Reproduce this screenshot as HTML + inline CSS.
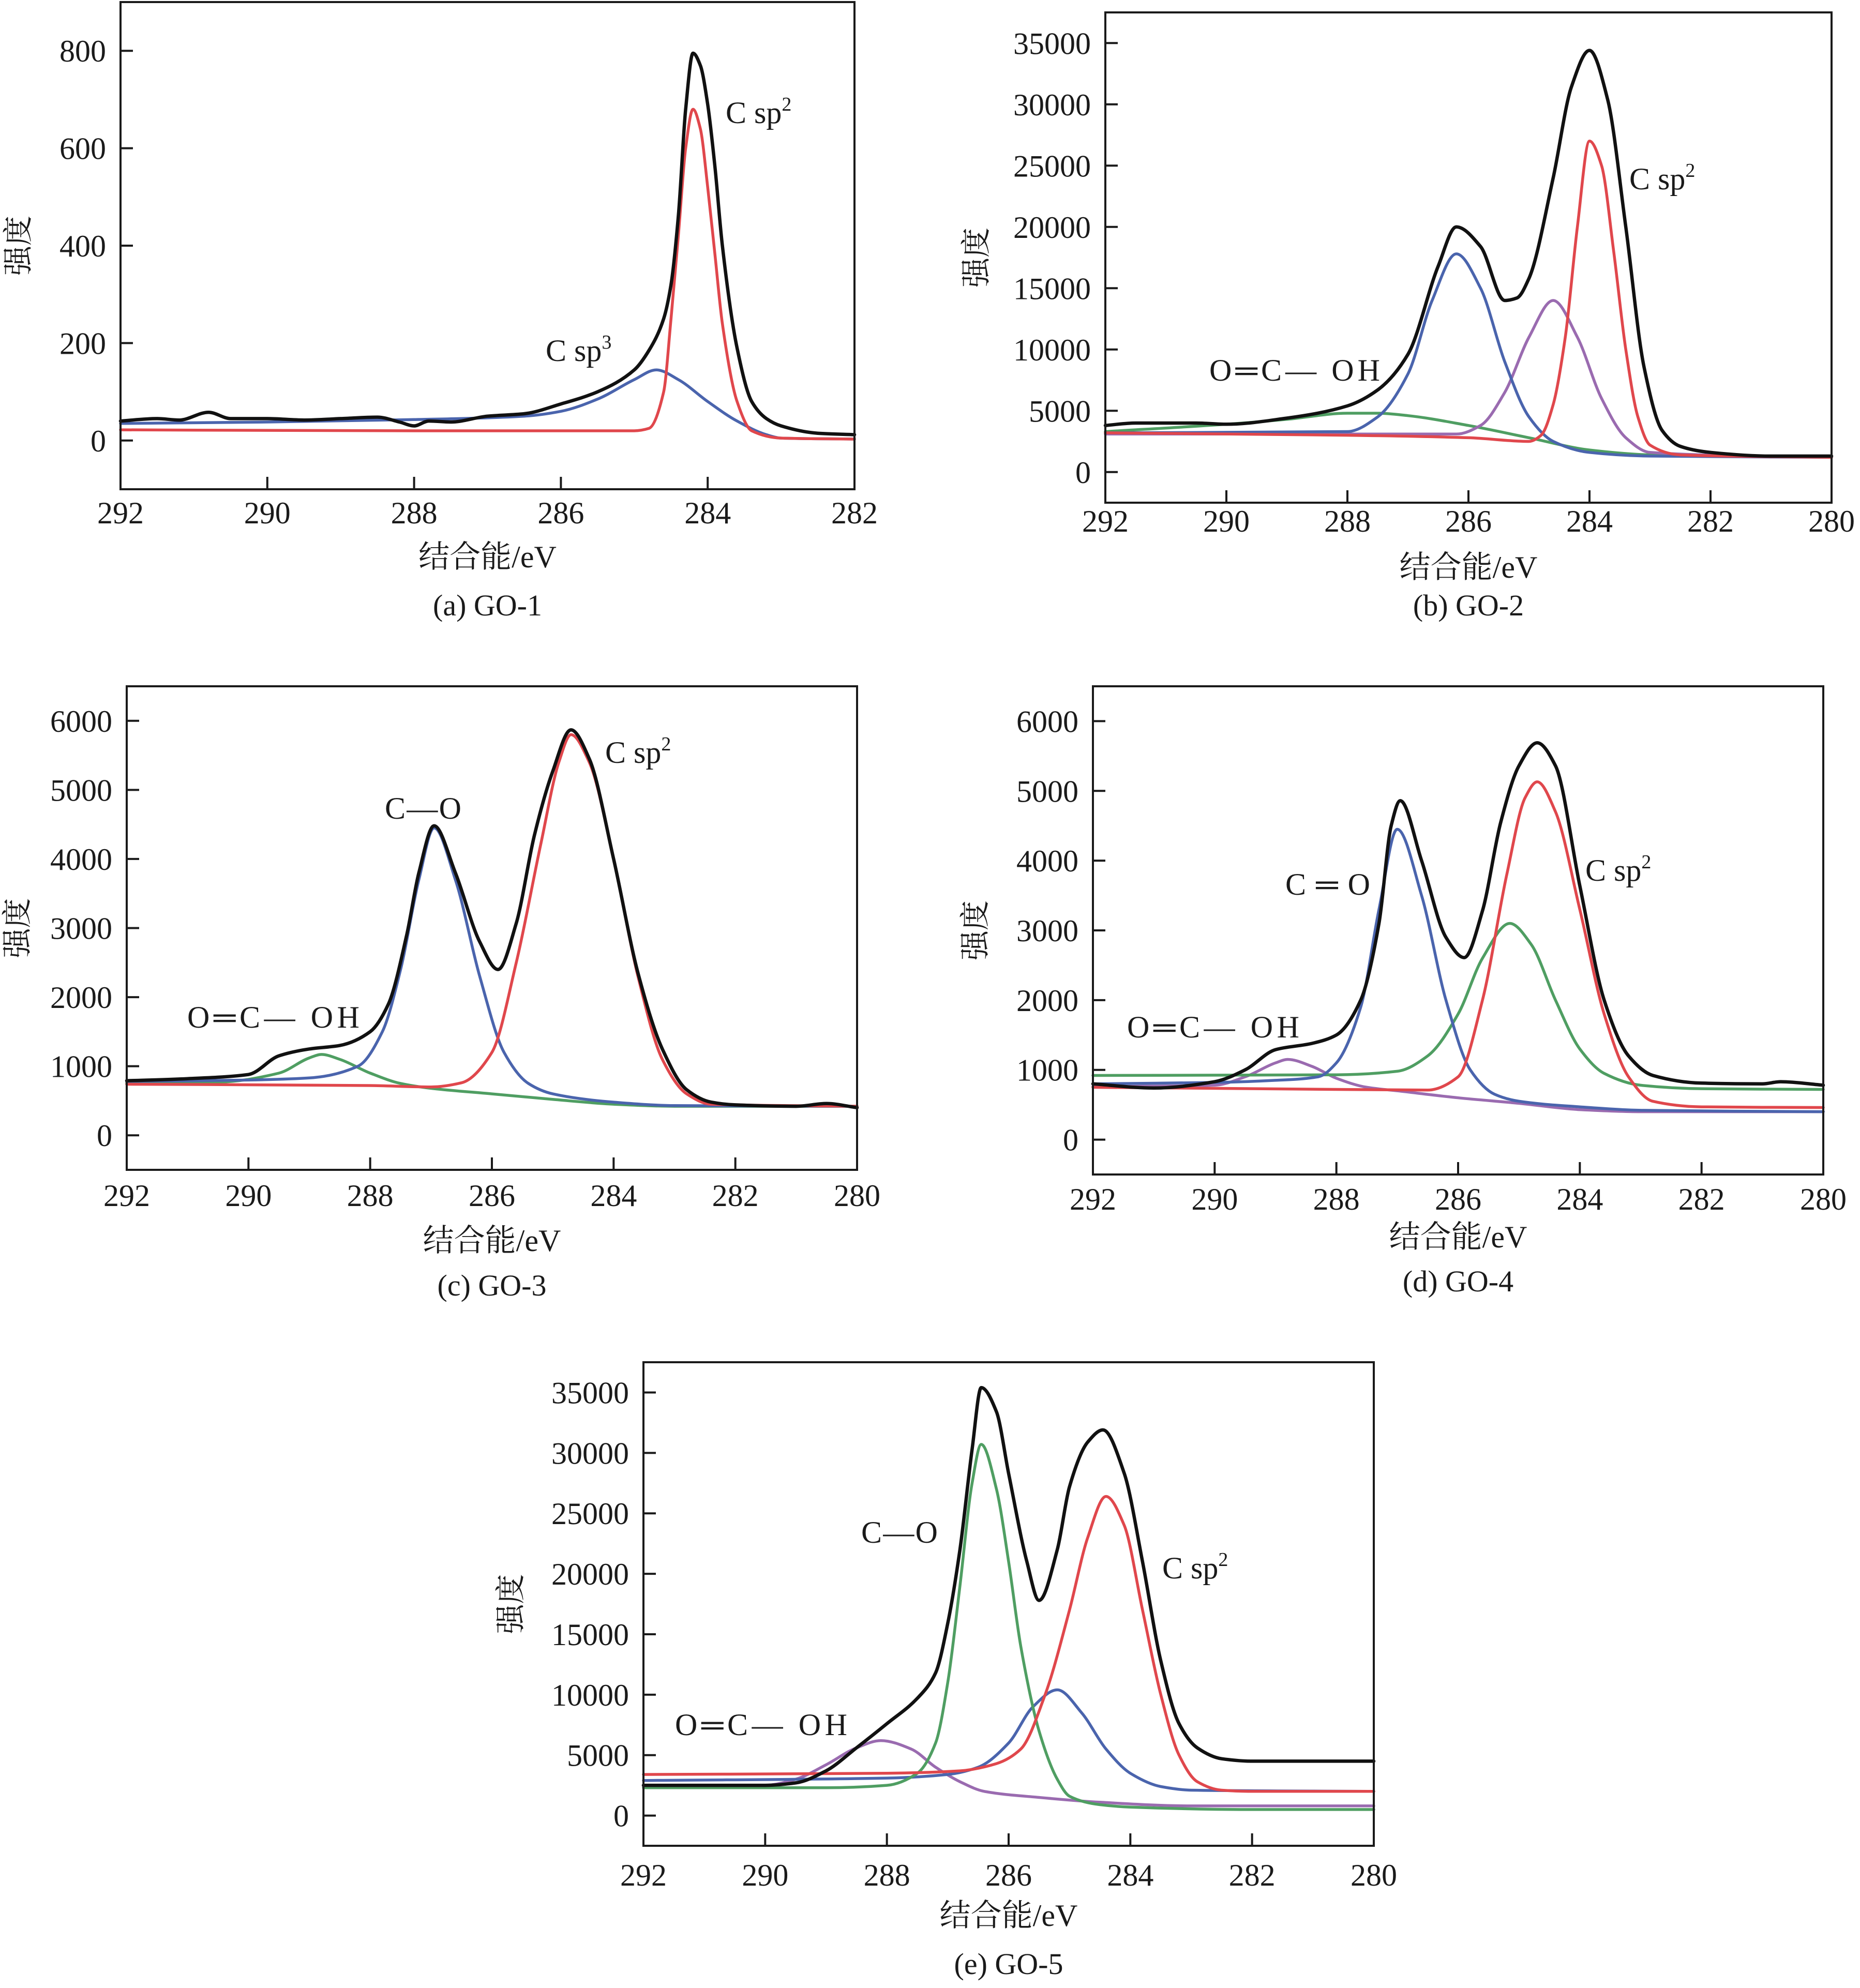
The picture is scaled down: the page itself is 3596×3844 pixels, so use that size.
<!DOCTYPE html>
<html><head><meta charset="utf-8"><title>XPS C1s spectra GO-1 to GO-5</title>
<style>
html,body{margin:0;padding:0;background:#fff;}
svg{display:block;}
text{font-family:"Liberation Serif","Noto Serif CJK SC",serif;fill:#1a1a1a;}
</style></head>
<body>
<svg id="chart" xmlns="http://www.w3.org/2000/svg" width="3596" height="3844" viewBox="0 0 3596 3844"></svg>
<script>
// ---------- data (binding energy eV, intensity) ----------
const xTicksA = [292,290,288,286,284,282];
const xTicks = [292,290,288,286,284,282,280];
const yTicksA = [0,200,400,600,800];
const yTicksB = [0,5000,10000,15000,20000,25000,30000,35000];
const yTicksC = [0,1000,2000,3000,4000,5000,6000];

// (a) GO-1
const aTotal = [[292,40],[291.5,45],[291.2,42],[290.8,58],[290.5,45],[290,45],[289.5,42],[289,45],[288.5,48],[288.2,38],[288,30],[287.8,40],[287.5,38],[287,50],[286.5,55],[286,75],[285.5,100],[285,145],[284.8,185],[284.6,250],[284.5,320],[284.4,460],[284.3,680],[284.2,795],[284.1,770],[284,690],[283.9,560],[283.8,400],[283.6,190],[283.4,80],[283.2,45],[283,30],[282.5,15],[282,12]];
const aSp2 = [[292,22],[288,20],[285,20],[284.8,25],[284.6,100],[284.5,250],[284.4,420],[284.3,600],[284.2,680],[284.1,640],[284,520],[283.9,380],[283.8,240],[283.6,80],[283.4,20],[283,5],[282,3]];
const aSp3 = [[292,35],[290,38],[288,43],[286.5,50],[286,60],[285.5,85],[285,125],[284.7,145],[284.4,125],[284,80],[283.6,40],[283.2,12],[283,5],[282,3]];

// (b) GO-2
const bTotal = [[292,3800],[291.5,4000],[290.5,4000],[290,3900],[289,4400],[288,5400],[287.5,6700],[287,9600],[286.5,16800],[286.2,20000],[285.8,18400],[285.4,14000],[285.2,14200],[285,15800],[284.6,24000],[284.3,31400],[284,34400],[283.7,30400],[283.4,20000],[283.1,8600],[282.8,3400],[282.5,2100],[282,1600],[281,1300],[280,1300]];
const bRed = [[292,3200],[288,3000],[286,2800],[285,2500],[284.8,3000],[284.6,5500],[284.4,11000],[284.2,20000],[284,27000],[283.8,25000],[283.6,18000],[283.4,10000],[283.2,4500],[283,2200],[282.5,1400],[280,1200]];
const bBlue = [[292,3200],[288,3300],[287.5,4500],[287,8000],[286.6,14000],[286.2,17800],[285.8,15000],[285.4,9000],[285,4500],[284.6,2500],[284,1600],[283,1300],[280,1200]];
const bPurple = [[292,3100],[286.2,3100],[285.8,3800],[285.4,6500],[285,11000],[284.6,14000],[284.2,11000],[283.8,6000],[283.4,2800],[283,1600],[280,1200]];
const bGreen = [[292,3300],[290,3900],[289,4300],[288,4800],[287.5,4800],[287,4600],[286,3800],[285,2800],[284,1800],[283,1400],[280,1200]];

// (c) GO-3
const cTotal = [[292,790],[291,820],[290,880],[289.5,1150],[289,1250],[288.5,1300],[288,1500],[287.7,1900],[287.4,2900],[287.2,3800],[286.95,4480],[286.6,3800],[286.2,2800],[285.9,2400],[285.6,3070],[285.3,4350],[285,5270],[284.7,5870],[284.4,5450],[284,4000],[283.6,2350],[283.2,1250],[282.8,660],[282.4,480],[282,440],[281,420],[280.5,460],[280,400]];
const cBlue = [[292,780],[290,800],[289,830],[288.2,1000],[287.8,1500],[287.5,2400],[287.2,3700],[286.95,4450],[286.6,3700],[286.2,2300],[285.8,1200],[285.4,750],[285,600],[284,480],[283,430],[280,420]];
const cRed = [[292,740],[288,720],[287,700],[286.5,760],[286,1200],[285.6,2500],[285.2,4200],[284.9,5400],[284.7,5800],[284.4,5400],[284,4000],[283.6,2300],[283.2,1100],[282.8,600],[282.4,450],[280,420]];
const cGreen = [[292,760],[290.5,770],[289.5,900],[289,1120],[288.8,1170],[288.5,1100],[288,900],[287.5,750],[287,680],[286,600],[285,520],[284,450],[283,420],[280,420]];

// (d) GO-4
const dTotal = [[292,800],[291,740],[290,830],[289.5,1000],[289,1290],[288.4,1380],[288,1500],[287.6,2000],[287.3,3100],[287.1,4500],[286.95,4860],[286.6,4000],[286.2,2900],[285.9,2610],[285.6,3280],[285.3,4550],[285,5360],[284.7,5690],[284.4,5360],[284,3640],[283.6,2000],[283.2,1200],[282.8,920],[282,810],[281,800],[280.7,830],[280,780]];
const dBlue = [[292,800],[290,820],[289,850],[288.3,900],[288,1100],[287.6,1900],[287.3,3300],[287,4450],[286.6,3500],[286.2,2000],[285.8,1000],[285.4,650],[285,550],[284,470],[283,420],[280,400]];
const dRed = [[292,750],[288,720],[286.5,710],[286,900],[285.6,2000],[285.2,3800],[284.9,4900],[284.7,5130],[284.4,4700],[284,3300],[283.6,1800],[283.2,900],[282.8,550],[282,470],[280,460]];
const dGreen = [[292,920],[288,930],[287,980],[286.5,1200],[286,1800],[285.6,2600],[285.15,3100],[284.8,2800],[284.4,2000],[284,1300],[283.6,950],[283,780],[282,730],[280,720]];
const dPurple = [[292,760],[290,780],[289.5,900],[289,1100],[288.8,1150],[288.4,1050],[288,880],[287.5,750],[287,700],[286,600],[285,520],[284,430],[283,400],[280,400]];

// (e) GO-5
const eTotal = [[292,2500],[290,2500],[289.5,2700],[289,3700],[288.5,5600],[288,7600],[287.5,9700],[287.2,11800],[287,15900],[286.8,22000],[286.6,30300],[286.45,35400],[286.2,33400],[286,28300],[285.7,21000],[285.5,17800],[285.2,22000],[285,27200],[284.7,30900],[284.45,31900],[284.1,28300],[283.8,21000],[283.5,12800],[283.2,7600],[282.9,5600],[282.5,4700],[282,4500],[280,4500]];
const eGreen = [[292,2300],[289,2300],[288,2500],[287.5,3500],[287.2,6000],[287,11000],[286.8,19000],[286.6,27500],[286.45,30700],[286.2,27000],[286,21000],[285.8,14000],[285.5,7000],[285.2,3000],[285,1600],[284.5,900],[284,700],[282,500],[280,500]];
const eRed = [[292,3400],[288,3500],[286.8,3700],[286.2,4300],[285.8,5500],[285.4,10000],[285,17000],[284.7,23000],[284.4,26400],[284.1,24000],[283.8,17000],[283.5,10000],[283.2,5000],[282.9,2800],[282.5,2100],[282,2000],[280,2000]];
const eBlue = [[292,2900],[288,3100],[287,3400],[286.5,4000],[286,6000],[285.6,9000],[285.2,10400],[284.8,8500],[284.4,5500],[284,3500],[283.5,2400],[283,2100],[280,2000]];
const ePurple = [[292,2400],[290,2500],[289.5,3000],[289,4200],[288.5,5600],[288.1,6200],[287.6,5500],[287.2,4000],[286.8,2800],[286.4,2000],[285.5,1500],[284.5,1100],[283,800],[280,800]];

// ---------- rendering ----------
const NS = "http://www.w3.org/2000/svg";
const svg = document.getElementById("chart");
const COL = {black:"#111111", red:"#e0474c", blue:"#4a64ad", green:"#4f9e62", purple:"#9a6bb0"};

function mk(tag, attrs, parent){
  const el = document.createElementNS(NS, tag);
  for (const k in attrs) el.setAttribute(k, attrs[k]);
  (parent||svg).appendChild(el);
  return el;
}

// monotone cubic (Fritsch–Carlson) path through screen points sorted by x
function smoothPath(p){
  const n = p.length;
  const dx = [], s = [];
  for (let i=0;i<n-1;i++){ dx[i]=p[i+1][0]-p[i][0]; s[i]=(p[i+1][1]-p[i][1])/dx[i]; }
  const m = [];
  m[0]=s[0]; m[n-1]=s[n-2];
  for (let i=1;i<n-1;i++){
    if (s[i-1]*s[i] <= 0) m[i]=0;
    else {
      const w1 = 2*dx[i]+dx[i-1], w2 = dx[i]+2*dx[i-1];
      m[i] = (w1+w2)/(w1/s[i-1]+w2/s[i]);
    }
  }
  let d = "M" + p[0][0].toFixed(1) + "," + p[0][1].toFixed(1);
  for (let i=0;i<n-1;i++){
    const h = dx[i]/3;
    d += " C"+(p[i][0]+h).toFixed(1)+","+(p[i][1]+m[i]*h).toFixed(1)+" "+(p[i+1][0]-h).toFixed(1)+","+(p[i+1][1]-m[i+1]*h).toFixed(1)+" "+p[i+1][0].toFixed(1)+","+p[i+1][1].toFixed(1);
  }
  return d;
}

function panel(cfg){
  const g = mk("g", {});
  
  
  const xs = v => cfg.x0 + (cfg.xmax - v)/(cfg.xmax - cfg.xmin)*(cfg.x1 - cfg.x0);
  const ys = v => cfg.y1 - (v - cfg.ymin)/(cfg.ymax - cfg.ymin)*(cfg.y1 - cfg.y0);
  cfg.series.forEach(s => {
    const p = mk("path", {d: smoothPath(s.data.map(q => [xs(q[0]), ys(q[1])])), fill:"none", stroke: COL[s.color], "stroke-width": s.color==="black"?6.5:5.5, "stroke-linejoin":"round", "stroke-linecap":"round"}, g);
    
    
  });
  const fr = mk("rect", {x:cfg.x0, y:cfg.y0, width:cfg.x1-cfg.x0, height:cfg.y1-cfg.y0, fill:"none", stroke:"#1a1a1a", "stroke-width":4}, g);
  
  
  cfg.xt.forEach(v => {
    const x = xs(v);
    mk("line", {x1:x, x2:x, y1:cfg.y1, y2:cfg.y1-24, stroke:"#1a1a1a", "stroke-width":4}, g);
    const t = mk("text", {x:x, y:cfg.y1+cfg.xtOff, "font-size":60, "text-anchor":"middle"}, g);
    
    
    t.textContent = v;
  });
  cfg.yt.forEach(v => {
    const y = ys(v);
    mk("line", {x1:cfg.x0, x2:cfg.x0+24, y1:y, y2:y, stroke:"#1a1a1a", "stroke-width":4}, g);
    const t = mk("text", {x:cfg.x0-28, y:y+21, "font-size":60, "text-anchor":"end"}, g);
    
    
    t.textContent = v;
  });
  const cx = (cfg.x0+cfg.x1)/2;
  const xl = mk("text", {x:cx, y:cfg.y1+cfg.xlOff, "font-size":60, "text-anchor":"middle"}, g);
  
  
  xl.textContent = "结合能/eV";
  const cp = mk("text", {x:cx, y:cfg.y1+cfg.capOff, "font-size":58, "text-anchor":"middle"}, g);
  
  
  cp.textContent = cfg.caption;
  const ycx = cfg.x0 - cfg.ylOff, ycy = (cfg.y0+cfg.y1)/2;
  const yl = mk("text", {x:ycx, y:ycy+20, "font-size":58, "text-anchor":"middle", transform:"rotate(-90 "+ycx+" "+ycy+")"}, g);
  
  
  yl.textContent = "强度";
  cfg.labels.forEach(l => {
    const at = {x:l.x, y:l.y, "font-size":60};
    if (l.w){ at.textLength = l.w; at.lengthAdjust = "spacing"; }
    const t = mk("text", at, g);
    
    
    t.textContent = l.t;
    if (l.sup){
      const s = mk("tspan", {dy:-24, "font-size":38}, t);
      s.textContent = l.sup;
    }
  });
}

panel({name:"panel-a-go1", x0:233, x1:1652, y0:4, y1:946, xmin:282, xmax:292, ymin:-100, ymax:900,
  xt:xTicksA, yt:yTicksA, xtOff:66, xlOff:151, capOff:244, ylOff:198, caption:"(a) GO-1",
  series:[{name:"csp3-peak",color:"blue",data:aSp3},{name:"csp2-peak",color:"red",data:aSp2},{name:"total-spectrum",color:"black",data:aTotal}],
  labels:[{name:"label-csp2",x:1403,y:238,t:"C sp",sup:"2"},{name:"label-csp3",x:1055,y:698,t:"C sp",sup:"3"}]});

panel({name:"panel-b-go2", x0:2137, x1:3541, y0:24, y1:972, xmin:280, xmax:292, ymin:-2500, ymax:37500,
  xt:xTicks, yt:yTicksB, xtOff:56, xlOff:145, capOff:218, ylOff:250, caption:"(b) GO-2",
  series:[{name:"green-peak",color:"green",data:bGreen},{name:"purple-peak",color:"purple",data:bPurple},{name:"blue-peak",color:"blue",data:bBlue},{name:"red-peak",color:"red",data:bRed},{name:"total-spectrum",color:"black",data:bTotal}],
  labels:[{name:"label-csp2",x:3150,y:366,t:"C sp",sup:"2"},{name:"label-cooh",x:2338,y:736,t:"O═C— OH",w:330}]});

panel({name:"panel-c-go3", x0:245, x1:1657, y0:1327, y1:2262, xmin:280, xmax:292, ymin:-500, ymax:6500,
  xt:xTicks, yt:yTicksC, xtOff:70, xlOff:157, capOff:243, ylOff:212, caption:"(c) GO-3",
  series:[{name:"green-peak",color:"green",data:cGreen},{name:"blue-peak",color:"blue",data:cBlue},{name:"red-peak",color:"red",data:cRed},{name:"total-spectrum",color:"black",data:cTotal}],
  labels:[{name:"label-csp2",x:1170,y:1475,t:"C sp",sup:"2"},{name:"label-co",x:744,y:1583,t:"C—O",w:148},{name:"label-cooh",x:362,y:1987,t:"O═C— OH",w:333}]});

panel({name:"panel-d-go4", x0:2113, x1:3525, y0:1327, y1:2271, xmin:280, xmax:292, ymin:-500, ymax:6500,
  xt:xTicks, yt:yTicksC, xtOff:68, xlOff:141, capOff:226, ylOff:228, caption:"(d) GO-4",
  series:[{name:"purple-peak",color:"purple",data:dPurple},{name:"green-peak",color:"green",data:dGreen},{name:"blue-peak",color:"blue",data:dBlue},{name:"red-peak",color:"red",data:dRed},{name:"total-spectrum",color:"black",data:dTotal}],
  labels:[{name:"label-c-double-o",x:2485,y:1730,t:"C═O",w:164},{name:"label-csp2",x:3065,y:1703,t:"C sp",sup:"2"},{name:"label-cooh",x:2179,y:2006,t:"O═C— OH",w:333}]});

panel({name:"panel-e-go5", x0:1244, x1:2656, y0:2634, y1:3569, xmin:280, xmax:292, ymin:-2500, ymax:37500,
  xt:xTicks, yt:yTicksB, xtOff:77, xlOff:155, capOff:248, ylOff:257, caption:"(e) GO-5",
  series:[{name:"purple-peak",color:"purple",data:ePurple},{name:"blue-peak",color:"blue",data:eBlue},{name:"green-peak",color:"green",data:eGreen},{name:"red-peak",color:"red",data:eRed},{name:"total-spectrum",color:"black",data:eTotal}],
  labels:[{name:"label-co",x:1665,y:2983,t:"C—O",w:148},{name:"label-csp2",x:2247,y:3052,t:"C sp",sup:"2"},{name:"label-cooh",x:1305,y:3355,t:"O═C— OH",w:333}]});
</script>
</body></html>
